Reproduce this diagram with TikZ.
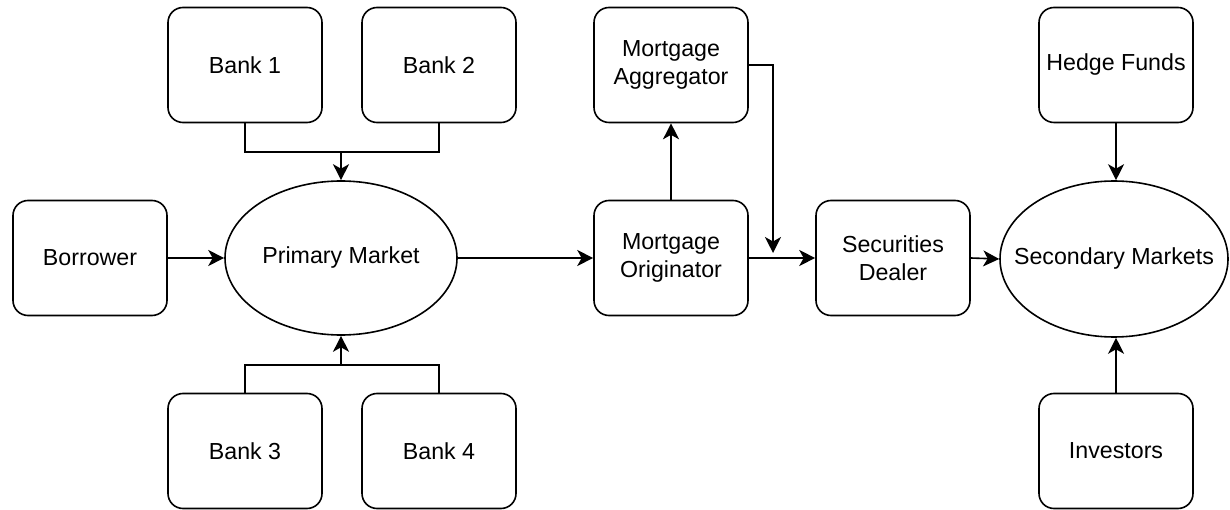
\documentclass[tikz,border=0pt]{standalone}
\usepackage{fontspec}
\setmainfont{Liberation Sans}
\usetikzlibrary{shapes.geometric,arrows.meta}
\begin{document}
\begin{tikzpicture}[x=1pt,y=-1pt,
  every node/.style={font=\fontsize{23.2}{27.5}\selectfont, align=center},
  box/.style={draw, line width=1.6pt, rounded corners=15pt, minimum width=154pt, minimum height=115pt, inner sep=0pt},
  oval/.style={draw, line width=1.6pt, ellipse, inner sep=0pt},
  conn/.style={line width=1.6pt},
  arr/.style={conn, -{Stealth[length=16pt,width=16pt,inset=4.5pt]}}]
\useasboundingbox (0,0) rectangle (1230,510);
% nodes
\node[box] (b1) at (245,65) {Bank 1};
\node[box] (b2) at (439,65) {Bank 2};
\node[box] (bor) at (90,258) {Borrower};
\node[oval, minimum width=232pt, minimum height=154pt] (pm) at (341,258) {\makebox[0pt]{Primary Market}};
\node[box] (b3) at (245,451) {Bank 3};
\node[box] (b4) at (439,451) {Bank 4};
\node[box] (agg) at (671,65) {Mortgage\\Aggregator};
\node[box] (orig) at (671,258) {Mortgage\\Originator};
\node[box] (deal) at (893,258) {Securities\\Dealer};
\node[oval, minimum width=228pt, minimum height=156pt] (sm) at (1114,259) {\makebox[0pt]{Secondary Markets}};
\node[box] (hf) at (1116,65) {Hedge Funds};
\node[box] (inv) at (1116,451) {Investors};
% coordinates
\coordinate (j1) at (341,152);
\coordinate (j2) at (341,365);
\coordinate (ct) at (773,253);
% connectors
\draw[conn] (b1.south) |- (j1) -| (b2.south);
\draw[arr] (j1) -- (pm.north);
\draw[conn] (b3.north) |- (j2) -| (b4.north);
\draw[arr] (j2) -- (pm.south);
\draw[arr] (bor.east) -- (pm.west);
\draw[arr] (pm.east) -- (orig.west);
\draw[arr] (orig.north) -- (agg.south);
\draw[arr] (agg.east) -| (ct);
\draw[arr] (orig.east) -- (deal.west);
\draw[arr] (deal.east) -- (sm.west);
\draw[arr] (hf.south) -- (hf.south |- sm.north);
\draw[arr] (inv.north) -- (inv.north |- sm.south);
\end{tikzpicture}
\end{document}
